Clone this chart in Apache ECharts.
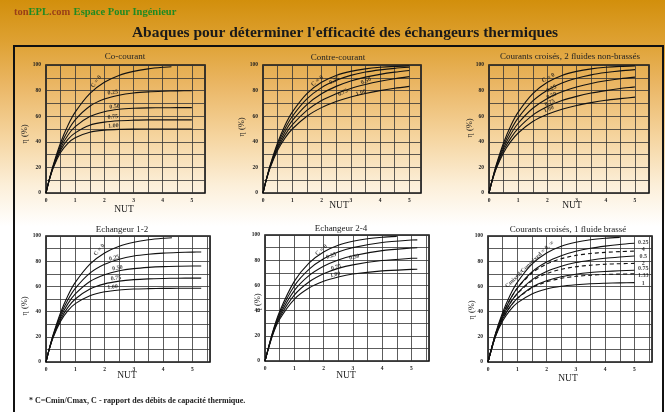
<!DOCTYPE html>
<html><head><meta charset="utf-8">
<script src="https://cdn.jsdelivr.net/npm/echarts@6/dist/echarts.min.js"></script>
<style>html,body{margin:0;padding:0;width:665px;height:412px;overflow:hidden;background:#fff}#c{width:665px;height:412px}</style>
</head><body><div id="c"></div><script>
const nut      = [0,0.1,0.25,0.5,0.75,1,1.5,2,2.5,3,3.5,4,4.5,5];
const nutC0    = [0,0.1,0.25,0.5,0.75,1,1.5,2,2.5,3,3.5,4,4.3];
const nut12    = [0,0.1,0.25,0.5,0.75,1,1.5,2,2.5,3,3.5,4,4.5,5,5.3];
const nut24    = [0,0.25,0.5,1,1.5,2,2.5,3,4,5,5.2];
const nut24C0  = [0,0.25,0.5,1,1.5,2,2.5,3,3.5,4,4.5];
const nutX1    = [0,0.25,0.5,0.75,1,1.5,2,2.5,3,3.5,4,4.5,5];
const nutX1C0  = [0,0.25,0.5,0.75,1,1.5,2,2.5,3,3.5,4,4.5];

// Co-courant
const coC0   = [0,9.5,22,39.3,52.8,63.2,77.7,86.5,91.8,95,97,98.2,98.6];
const coC025 = [0,9.4,21.4,37.1,48.6,57.2,67.8,73.4,76.4,78.1,79,79.5,79.8,79.9];
const coC050 = [0,9.3,20.8,35.2,45.1,51.8,59.7,63.5,65.4,66.2,66.5,66.6,66.7,66.7];
const coC075 = [0,9.2,20.2,33.5,41.9,47,53,55.4,56.5,56.9,57.1,57.1,57.1,57.1];
const coC100 = [0,9.1,19.7,31.6,38.8,43.2,47.5,49.1,49.7,49.9,50,50,50,50];
// Contre-courant
const ctC0   = [0,9.5,22.1,39.3,52.8,63.2,77.7,86.5,91.8,95,97,98.2,98.9,99.3];
const ctC025 = [0,9.4,21.6,37.8,50.2,59.8,73.5,82.3,88,91.9,94.5,96.2,97.4,98.2];
const ctC050 = [0,9.3,21,36.2,47.6,56.5,69.1,77.5,83.3,87.5,90.5,92.7,94.4,95.7];
const ctC075 = [0,9.2,20.5,34.8,45.2,53.2,64.5,72.2,77.6,81.7,84.8,87.3,89.3,90.9];
const ctC100 = [0,9.1,20,33.3,42.9,50,60,66.7,71.4,75,77.8,80,81.8,83.3];
// Courants croisés, 2 fluides non-brassés
const xuC0   = [0,9.5,22.1,39.3,52.8,63.2,77.7,86.5,91.8,95,97,98.2,98.9,99.3];
const xuC025 = [0,9.3,21.3,37.2,49.3,58.7,71.9,80.3,85.9,89.6,92.3,94.1,95.4,96.4];
const xuC050 = [0,9.2,20.6,35.2,46.1,54.5,66.2,73.9,79.1,82.8,85.6,87.7,89.3,90.5];
const xuC075 = [0,9,19.8,33.3,43.1,50.5,60.8,67.5,72.2,75.5,78.1,80,81.6,82.9];
const xuC100 = [0,8.8,19.1,31.5,40.3,46.9,55.8,61.5,65.5,68.4,70.6,72.4,73.7,74.9];
// Echangeur 1-2
const e12C0   = [0,9.5,22,39.3,52.8,63.2,77.7,86.5,91.8,95,97,98.2,98.6];
const e12C025 = [0,9.4,21.5,37.5,49.4,58.4,70.5,77.5,81.6,84.1,85.5,86.4,86.9,87.2,87.3];
const e12C050 = [0,9.3,20.9,35.7,46.3,54,63.9,69.3,72.4,74.1,75.1,75.7,76,76.2,76.2];
const e12C075 = [0,9.2,20.4,34,43.4,50,57.9,62,64.2,65.4,66,66.3,66.5,66.6,66.6];
const e12C100 = [0,9.1,19.8,32.4,40.7,46.3,52.6,55.7,57.2,57.9,58.2,58.4,58.5,58.5,58.5];
// Echangeur 2-4
const e24C0   = [0,22.1,39.3,63.2,77.7,86.5,91.8,95,97,98.2,98.9];
const e24C025 = [0,21.5,37.7,59.5,72.7,81.1,86.5,90,94,96,96.1];
const e24C050 = [0,20.9,36.1,55.8,67.7,75.2,80.2,83.6,87.6,89.7,89.9];
const e24C075 = [0,20.3,34.6,52.3,62.7,69.2,73.5,76.3,79.7,81.5,81.6];
const e24C100 = [0,19.8,33.1,49,57.9,63.3,66.7,69,71.5,72.7,72.8];
// Courants croisés, 1 fluide brassé (Cmixed/Cunmixed)
const xmR0    = [0,22.1,39.3,52.8,63.2,77.7,86.5,91.8,95,97,98.2,98.9];
const xmR025  = [0,21.5,37.5,49.5,58.7,71.4,79.3,84.4,87.9,90.3,92,93.3,94.2];
const xmR4    = [0,21.5,37.5,49.4,58.5,70.6,77.8,82,84.6,86.1,87,87.6,88];
const xmR050  = [0,20.9,35.8,46.5,54.5,65.2,71.8,76,78.9,80.8,82.3,83.3,84.1];
const xmR2    = [0,20.9,35.7,46.4,54.2,64.4,70.2,73.6,75.6,76.8,77.6,78,78.3];
const xmR075  = [0,20.4,34.1,43.7,50.5,59.4,64.5,67.7,69.7,71,71.8,72.4,72.8];
const xmR133  = [0,20.4,34.1,43.6,50.4,58.9,63.6,66.4,68,68.9,69.5,69.8,70];
const xmR1    = [0,19.8,32.5,41,46.9,54,57.9,60.1,61.3,62.1,62.5,62.8,63];

const xTickLabels = ['0','1','2','3','4','5'];
const yTickLabels = ['0','20','40','60','80','100'];

// curve annotations: [NUT, η, text, rotation]
const lab1 = [[1.72,87,'C = 0',52],[2.29,78.5,'0.25',8],[2.35,67.5,'0.50',6],[2.29,59.5,'0.75',6],[2.31,52.5,'1.00',4]];
const lab2 = [[1.85,87.5,'C = 0',38],[2.44,87.8,'0.25',30],[3.52,87.5,'0.50',24],[2.73,78.5,'0.75',27],[3.35,78.3,'1.00',20]];
const lab3 = [[2.03,90,'C = 0',30],[2.14,81.5,'0.25',28],[2.14,76,'0.50',25],[2.08,70.5,'0.75',24],[2.05,65.5,'1.00',22]];
const lab4 = [[1.82,89,'C = 0',50],[2.33,82.5,'0.25',14],[2.44,74.5,'0.50',10],[2.39,66.5,'0.75',8],[2.27,59.5,'1.00',6]];
const lab5 = [[1.92,88,'C = 0',40],[2.26,83.5,'0.25',18],[3.05,82.5,'0.50',12],[2.43,74.3,'0.75',15],[2.4,68.5,'1.00',12]];
const lab6 = [[1.42,77.5,'Cmixed/Cunmixed = 0, ∞',44],[5.3,95.2,'0.25',0],[5.3,89,'4',0],[5.3,84,'0.5',0],[5.3,78.5,'2',0],[5.3,74,'0.75',0],[5.3,69,'1.33',0],[5.3,62.5,'1',0]];

// ---------- LAYOUT ----------
const SERIF = '"Liberation Serif","DejaVu Serif",serif';
const panels = [
  {title:'Co-courant', g:{left:46,top:65,width:159,height:128}, xmax:5.45, tp:[125,57], np:[124,209], ep:[25,134],
   curves:[[nutC0,coC0],[nut,coC025],[nut,coC050],[nut,coC075],[nut,coC100]], labels:lab1},
  {title:'Contre-courant', g:{left:263,top:65,width:158,height:128}, xmax:5.4, tp:[338,58], np:[339,205], ep:[242,127],
   curves:[[nut,ctC0],[nut,ctC025],[nut,ctC050],[nut,ctC075],[nut,ctC100]], labels:lab2},
  {title:'Courants croisés, 2 fluides non-brassés', g:{left:489,top:65,width:160,height:128}, xmax:5.48, tp:[570,57], np:[572,205], ep:[470,128],
   curves:[[nut,xuC0],[nut,xuC025],[nut,xuC050],[nut,xuC075],[nut,xuC100]], labels:lab3},
  {title:'Echangeur 1-2', g:{left:46,top:236,width:164,height:126}, xmax:5.6, tp:[122,230], np:[127,375], ep:[25,306],
   curves:[[nutC0,e12C0],[nut12,e12C025],[nut12,e12C050],[nut12,e12C075],[nut12,e12C100]], labels:lab4},
  {title:'Echangeur 2-4', g:{left:265,top:235,width:164,height:126}, xmax:5.6, tp:[341,229], np:[346,375], ep:[258,303],
   curves:[[nut24C0,e24C0],[nut24,e24C025],[nut24,e24C050],[nut24,e24C075],[nut24,e24C100]], labels:lab5},
  {title:'Courants croisés, 1 fluide brassé', g:{left:488,top:236,width:164,height:126}, xmax:5.6, tp:[568,230], np:[568,378], ep:[472,310],
   curves:[[nutX1C0,xmR0],[nutX1,xmR025],[nutX1,xmR4,1],[nutX1,xmR050],[nutX1,xmR2,1],[nutX1,xmR075],[nutX1,xmR133,1],[nutX1,xmR1]], labels:lab6}
];

const grids=[], xAxes=[], yAxes=[], series=[], graphic=[];
const isInt = v => Math.abs(v-Math.round(v))<1e-6;
panels.forEach((p,i)=>{
  grids.push(Object.assign({show:true, borderColor:'#151515', borderWidth:1.6, backgroundColor:'transparent'}, p.g));
  xAxes.push({gridIndex:i, type:'value', min:0, max:p.xmax, interval:0.5,
    axisLine:{show:false}, axisTick:{show:false},
    axisLabel:{fontSize:5.5, fontWeight:'bold', color:'#222', margin:5, fontFamily:SERIF,
      formatter:v => (isInt(v) && xTickLabels.includes(String(Math.round(v)))) ? String(Math.round(v)) : ''},
    splitLine:{show:true, lineStyle:{color:'#333', width:0.8}}});
  yAxes.push({gridIndex:i, type:'value', min:0, max:100, interval:10,
    axisLine:{show:false}, axisTick:{show:false},
    axisLabel:{fontSize:5.5, fontWeight:'bold', color:'#222', margin:5, fontFamily:SERIF,
      formatter:v => yTickLabels.includes(String(v)) ? String(v) : ''},
    splitLine:{show:true, lineStyle:{color:'#333', width:0.8}}});
  p.curves.forEach(c=>{
    series.push({type:'line', xAxisIndex:i, yAxisIndex:i, smooth:0.25, symbol:'none', silent:true,
      lineStyle:{color:'#111', width:1.1, type: c[2] ? [4,3] : 'solid'},
      data: c[1].map((y,k)=>[c[0][k], y])});
  });
  series.push({type:'scatter', xAxisIndex:i, yAxisIndex:i, symbolSize:0, silent:true, z:5,
    data: p.labels.map(l=>({value:[l[0],l[1]], label:{show:true, position:'inside', formatter:l[2], rotate:l[3],
      fontSize:6, fontWeight:'bold', color:'#111', fontFamily:SERIF}}))});
  graphic.push({type:'text', x:p.tp[0], y:p.tp[1], style:{text:p.title, font:'9px '+SERIF, fill:'#222', textAlign:'center', textVerticalAlign:'middle'}});
  graphic.push({type:'text', x:p.np[0], y:p.np[1], style:{text:'NUT', font:'9.5px '+SERIF, fill:'#222', textAlign:'center', textVerticalAlign:'middle'}});
  graphic.push({type:'text', x:p.ep[0], y:p.ep[1], rotation:Math.PI/2, style:{text:'η (%)', font:'8.5px '+SERIF, fill:'#222', textAlign:'center', textVerticalAlign:'middle'}});
});

graphic.push({type:'rect', shape:{x:14,y:46,width:649,height:380}, style:{fill:'none', stroke:'#111', lineWidth:2}, z:-1});
graphic.push({type:'text', x:14, y:12, style:{text:'{a|ton}{b|EPL}{a|.com} {b|Espace Pour Ingénieur}', textVerticalAlign:'middle',
  rich:{a:{fill:'#9a3f17', font:'bold 10.5px '+SERIF}, b:{fill:'#1f8a23', font:'bold 10.5px '+SERIF}}}});
graphic.push({type:'text', x:345, y:33, style:{text:"Abaques pour déterminer l'efficacité des échangeurs thermiques", font:'bold 15.5px '+SERIF, fill:'#1a1a1a', textAlign:'center', textVerticalAlign:'middle'}});
graphic.push({type:'text', x:29, y:401, style:{text:'* C=Cmin/Cmax, C - rapport des débits de capacité thermique.', font:'bold 8px '+SERIF, fill:'#1a1a1a', textVerticalAlign:'middle'}});

const chart = echarts.init(document.getElementById('c'), null, {renderer:'canvas'});
chart.setOption({
  animation:false,
  backgroundColor:{type:'linear', x:0, y:0, x2:0, y2:1, colorStops:[
    {offset:0, color:'#d28f0c'},{offset:0.1, color:'#dea132'},{offset:0.2, color:'#eab562'},
    {offset:0.33, color:'#f5d49e'},{offset:0.45, color:'#fcefd9'},{offset:0.55, color:'#ffffff'},{offset:1, color:'#ffffff'}]},
  grid:grids, xAxis:xAxes, yAxis:yAxes, series:series, graphic:graphic
});
</script></body></html>
